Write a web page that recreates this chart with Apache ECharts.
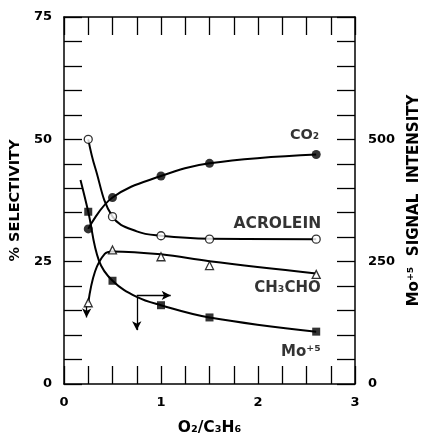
<!DOCTYPE html>
<html>
<head>
<meta charset="utf-8">
<script src="https://cdn.jsdelivr.net/npm/echarts@6/dist/echarts.min.js"></script>
<style>
html,body{margin:0;padding:0;background:#fff;}
#chart{width:422px;height:437px;}
</style>
</head>
<body>
<div id="chart"></div>
<script>
// ---- data ----
const xPts = [0.25, 0.5, 1.0, 1.5, 2.6];           // O2/C3H6 ratios
const co2 = [31.7, 38.1, 42.5, 45.1, 46.9];         // % selectivity
const acrolein = [50.0, 34.2, 30.3, 29.6, 29.6];    // % selectivity
const ch3cho = [16.6, 27.4, 26.0, 24.2, 22.4];      // % selectivity
const mo5 = [352, 211, 161, 136, 107];              // Mo+5 signal intensity (right axis)

// hand-drawn fitted curves
const co2Curve = [[0.25, 31.7], [0.5, 38.1], [1.0, 42.5], [1.5, 45.1], [2.6, 46.9]];
const acroleinCurve = [[0.25, 50.0], [0.32, 44.3], [0.5, 34.2], [0.75, 31.2], [1.0, 30.3], [1.5, 29.7], [2.6, 29.6]];
const ch3choCurve = [[0.25, 16.6], [0.32, 23.0], [0.42, 26.6], [0.5, 27.1], [1.0, 26.5], [1.5, 25.1], [2.6, 22.6]];
const mo5Curve = [[0.17, 417], [0.25, 352], [0.36, 252], [0.5, 211], [0.75, 178], [1.0, 161], [1.5, 136], [2.6, 107]];

// arrows (left-axis units)
const arrows = [
  [[0.75, 17.6], [0.75, 11.0]],
  [[0.75, 18.1], [1.1, 18.1]],
  [[0.234, 16.0], [0.232, 13.6]]
];

const xTicks = [0, 1, 2, 3];
const leftTicks = [0, 25, 50, 75];
const rightTicks = [0, 250, 500];

const seriesNames = ['CO₂', 'ACROLEIN', 'CH₃CHO', 'Mo⁺⁵'];

// ---- chart ----
const INK = '#000';
const FONT = 'DejaVu Sans';
const W = 'bold';
const chart = echarts.init(document.getElementById('chart'), null, {renderer: 'canvas'});

function endLabel(text, size, dx, dy) {
  return {show: true, position: 'inside', formatter: text, align: 'right', verticalAlign: 'middle',
          offset: [dx, dy], fontSize: size, fontWeight: W, color: INK, fontFamily: FONT, textBorderWidth: 0};
}
function markers(vals, label) {
  const last = xPts.length - 1;
  return xPts.map((x, i) => i === last ? {value: [x, vals[i]], label: label} : [x, vals[i]]);
}
function curve(data, yAxisIndex) {
  return {type: 'line', data: data, yAxisIndex: yAxisIndex, smooth: 0.4,
          showSymbol: false, symbol: 'none', silent: true,
          lineStyle: {color: INK, width: 2}, z: 2};
}
const axisLine = () => ({show: true, onZero: false, lineStyle: {color: INK, width: 1.5}});
const axisTick = () => ({show: true, inside: true, length: 18, lineStyle: {color: INK, width: 1.3}});
const tickText = {fontSize: 13, fontWeight: W, color: INK, fontFamily: FONT};

const option = {
  backgroundColor: '#fff',
  animation: false,
  grid: {left: 64, right: 67, top: 17, bottom: 53, containLabel: false, outerBoundsMode: 'none'},
  xAxis: [
    {type: 'value', min: 0, max: 3, interval: 0.25, position: 'bottom',
     name: 'O₂/C₃H₆', nameLocation: 'middle', nameGap: 36,
     nameTextStyle: {fontSize: 15.5, fontWeight: W, color: INK, fontFamily: FONT},
     axisLine: axisLine(), axisTick: axisTick(),
     axisLabel: Object.assign({margin: 12,
       formatter: v => xTicks.includes(Math.round(v * 100) / 100) ? String(Math.round(v)) : ''}, tickText),
     splitLine: {show: false}},
    {type: 'value', min: 0, max: 3, interval: 0.25, position: 'top',
     axisLine: axisLine(), axisTick: axisTick(),
     axisLabel: {show: false}, splitLine: {show: false}}
  ],
  yAxis: [
    {type: 'value', min: 0, max: 75, interval: 5, position: 'left',
     name: '% SELECTIVITY', nameLocation: 'middle', nameGap: 40, nameRotate: 90,
     nameTextStyle: {fontSize: 14.5, fontWeight: W, color: INK, fontFamily: FONT},
     axisLine: axisLine(), axisTick: axisTick(),
     axisLabel: Object.assign({margin: 12,
       formatter: v => leftTicks.includes(v) ? String(v) : ''}, tickText),
     splitLine: {show: false}},
    {type: 'value', min: 0, max: 750, interval: 50, position: 'right',
     name: 'Mo⁺⁵  SIGNAL  INTENSITY', nameLocation: 'middle', nameGap: 52, nameRotate: 90,
     nameTextStyle: {fontSize: 15, fontWeight: W, color: INK, fontFamily: FONT},
     axisLine: axisLine(), axisTick: axisTick(),
     axisLabel: Object.assign({margin: 13,
       formatter: v => rightTicks.includes(v) ? String(v) : ''}, tickText),
     splitLine: {show: false}}
  ],
  series: [
    curve(co2Curve, 0),
    curve(acroleinCurve, 0),
    curve(ch3choCurve, 0),
    curve(mo5Curve, 1),
    {type: 'scatter', name: seriesNames[0], yAxisIndex: 0, symbol: 'circle', symbolSize: 9,
     itemStyle: {color: INK}, data: markers(co2, endLabel(seriesNames[0], 14.5, 3, -19)), z: 5},
    {type: 'scatter', name: seriesNames[1], yAxisIndex: 0, symbol: 'circle', symbolSize: 8,
     itemStyle: {color: '#fff', borderColor: INK, borderWidth: 1.3},
     data: markers(acrolein, endLabel(seriesNames[1], 15.5, 5, -15)), z: 5},
    {type: 'scatter', name: seriesNames[2], yAxisIndex: 0, symbol: 'triangle', symbolSize: 8,
     itemStyle: {color: '#fff', borderColor: INK, borderWidth: 1.3},
     data: markers(ch3cho, endLabel(seriesNames[2], 15, 4.5, 14)), z: 5},
    {type: 'scatter', name: seriesNames[3], yAxisIndex: 1, symbol: 'rect', symbolSize: 8,
     itemStyle: {color: INK}, data: markers(mo5, endLabel(seriesNames[3], 15, 4.5, 20)), z: 5},
    {type: 'line', yAxisIndex: 0, data: [], silent: true,
     markLine: {silent: true, symbol: ['none', 'arrow'], symbolSize: [7, 9], animation: false,
       label: {show: false}, lineStyle: {color: INK, width: 1.3, type: 'solid'},
       data: arrows.map(a => [{coord: a[0]}, {coord: a[1]}])}}
  ]
};
chart.setOption(option);
</script>
</body>
</html>
